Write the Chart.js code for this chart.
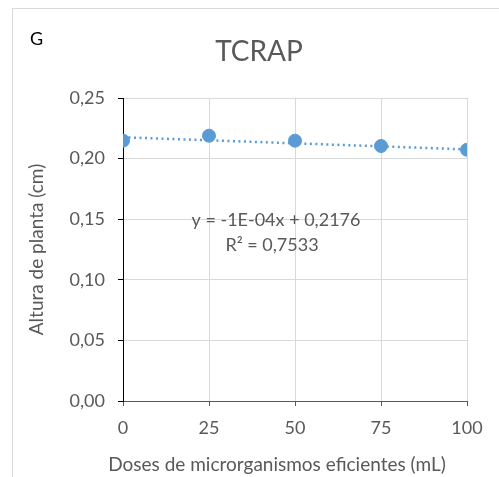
<!DOCTYPE html>
<html lang="pt">
  <head>
    <meta charset="UTF-8" />
    <title>TCRAP</title>
    <style>
      html, body { margin: 0; padding: 0; background: #fff; }
      #wrap { width: 499px; height: 477px; }
    </style>
  </head>
  <body>
    <div id="wrap"><canvas id="chart"></canvas></div>
    <script src="https://cdn.jsdelivr.net/npm/chart.js@4/dist/chart.umd.min.js"></script>
    <script>
      // doses (mL) and plant height (cm)
      const doses = [0, 25, 50, 75, 100];
      const altura = [0.2148, 0.2189, 0.2148, 0.2104, 0.2073];
      // linear trendline ends: y = -1E-04x + 0,2176
      const trendX = [0, 100];
      const trendY = [0.2176, 0.2076];
      const yTicks = [0, 0.05, 0.1, 0.15, 0.2, 0.25];

      const txt = "#595959";
      const font = "Lato, 'Open Sans', sans-serif";

      const extras = {
        id: "extras",
        beforeDraw(chart) {
          const ctx = chart.ctx;
          ctx.save();
          ctx.strokeStyle = "#d9d9d9";
          ctx.lineWidth = 1;
          ctx.strokeRect(12.5, 8.5, 700, 700);
          ctx.restore();
        },
        afterDraw(chart) {
          const ctx = chart.ctx;
          ctx.save();
          ctx.fillStyle = "#000";
          ctx.font = "18px " + font;
          ctx.textAlign = "left";
          ctx.textBaseline = "middle";
          ctx.fillText("G", 30, 39);
          ctx.fillStyle = txt;
          ctx.font = "28px " + font;
          ctx.textAlign = "center";
          ctx.fillText("TCRAP", 259, 52);
          ctx.font = "18px " + font;
          ctx.fillText("y = -1E-04x + 0,2176", 276, 220);
          ctx.fillText("R\u00b2 = 0,7533", 272, 245);
          // x axis title, centred like the original (not on the plot area)
          ctx.font = "19px " + font;
          ctx.fillText("Doses de microrganismos eficientes (mL)", 277, 465);
          ctx.restore();
        },
      };

      new Chart(document.getElementById("chart"), {
        type: "scatter",
        data: {
          datasets: [
            {
              label: "Altura",
              data: doses.map((x, i) => ({ x: x, y: altura[i] })),
              backgroundColor: "#5b9bd5",
              borderColor: "#5b9bd5",
              pointRadius: 6.5,
              pointHoverRadius: 6.5,
              order: 1,
            },
            {
              label: "Tendência",
              type: "line",
              data: trendX.map((x, i) => ({ x: x, y: trendY[i] })),
              borderColor: "#5b9bd5",
              borderWidth: 2.5,
              borderDash: [2, 3.5],
              pointRadius: 0,
              fill: false,
              order: 2,
            },
          ],
        },
        options: {
          responsive: true,
          maintainAspectRatio: false,
          animation: false,
          layout: { padding: { top: 98, left: 12, right: 32, bottom: 0 } },
          plugins: {
            legend: { display: false },
            tooltip: { enabled: false },
          },
          scales: {
            x: {
              type: "linear",
              min: 0,
              max: 100,
              ticks: { stepSize: 25, color: txt, font: { family: font, size: 18 }, padding: 11 },
              grid: { color: "#d9d9d9", tickColor: "#595959", tickLength: 5 },
              border: { color: "#595959", width: 1 },
              afterFit(s) { s.height = 76; },
            },
            y: {
              min: 0,
              max: 0.25,
              afterBuildTicks(s) { s.ticks = yTicks.map((v) => ({ value: v })); },
              ticks: {
                color: txt,
                font: { family: font, size: 18 },
                padding: 13,
                callback: (v) => v.toFixed(2).replace(".", ","),
              },
              grid: { color: "#d9d9d9", tickColor: "#000", tickLength: 5 },
              border: { color: "#000", width: 1 },
              title: {
                display: true,
                text: "Altura de planta (cm)",
                color: txt,
                font: { family: font, size: 19 },
                padding: { top: 13, bottom: 0 },
              },
              afterFit(s) { s.width = 111; },
            },
          },
        },
        plugins: [extras],
      });
    </script>
  </body>
</html>
